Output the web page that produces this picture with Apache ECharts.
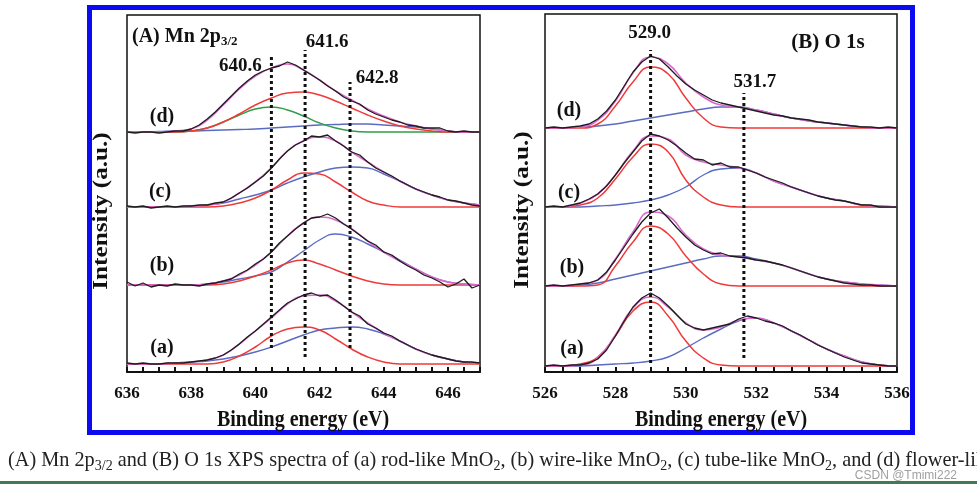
<!DOCTYPE html>
<html><head><meta charset="utf-8">
<script src="https://cdn.jsdelivr.net/npm/echarts@6/dist/echarts.min.js"></script>
<style>html,body{margin:0;padding:0;background:#fff;overflow:hidden}#c{width:977px;height:491px}</style>
</head><body><div id="c"></div>
<script>
// ================= DATA =================
// ---- Panel A: Mn 2p3/2 (binding energy, eV) ----
const mnE = [636,636.5,637,637.5,638,638.5,639,639.5,640,640.5,641,641.5,642,642.5,643,643.5,644,644.5,645,645.5,646,646.5,647];
const mnRawE = [636,636.25,636.5,636.75,637,637.25,637.5,637.75,638,638.25,638.5,638.75,639,639.25,639.5,639.75,640,640.25,640.5,640.75,641,641.25,641.5,641.75,642,642.25,642.5,642.75,643,643.25,643.5,643.75,644,644.25,644.5,644.75,645,645.25,645.5,645.75,646,646.25,646.5,646.75,647];
const mnOffset = {a: 8, b: 87, c: 165, d: 240};
// (a) rod-like
const mnRawA  = [1,0,1,0,0,1,1,1,2,3,4,6,9,14,20,27,33,40,47,54,61,65,69,71,68,69,64,58,52,48,40,36,31,28,23,19,15,12,9,7,5,3,2,2,1];
const mnFitA  = [0,0,0,1,2,4,9,20,33,46,60,68,69,63,52,41,31,23,15,9,5,2,1];
const mnRedA  = [0,0,0,0,0,0,2,8,17,28,35,37,34,25,15,7,2,0,0,0,0,0,0];
const mnBlueA = [0,0,0,1,2,3,5,8,12,17,23,29,34,36,37,35,30,23,15,9,5,2,1];
// (b) wire-like
const mnRawB  = [3,-1,2,-2,0,-1,1,0,0,-1,1,2,4,6,11,15,21,26,33,42,49,56,62,67,68,71,67,61,56,50,44,40,33,30,24,19,15,10,7,3,-2,1,6,-3,0];
const mnFitB  = [0,0,0,0,0,1,4,10,20,33,49,62,68,65,56,44,33,24,16,8,3,1,0];
const mnRedB  = [0,0,0,0,0,0,1,4,9,15,22,25,21,15,9,4,1,0,0,0,0,0,0];
const mnBlueB = [0,0,0,0,0,1,3,6,9,13,23,34,45,51,48,41,33,25,16,8,3,1,0];
// (c) tube-like
const mnRawC  = [1,0,1,-1,0,1,0,1,1,2,2,4,5,9,14,19,25,31,39,48,56,62,66,71,70,72,66,61,55,52,45,39,35,31,26,22,18,15,12,10,7,6,4,2,1];
const mnFitC  = [0,0,0,0,1,2,5,14,25,39,56,66,70,66,55,45,35,26,18,12,7,4,2];
const mnRedC  = [0,0,0,0,0,0,1,4,9,17,27,34,33,25,15,6,2,0,0,0,0,0,0];
const mnBlueC = [0,0,0,0,1,2,4,8,12,17,24,30,35,39,40,39,33,26,18,12,7,4,2];
// (d) flower-like
const mnRawD   = [0,-1,0,0,-1,0,1,1,3,7,13,20,28,36,44,51,57,61,64,66,70,67,62,57,52,46,41,35,31,28,22,18,15,12,10,7,6,4,4,4,1,0,1,0,0];
const mnFitD   = [0,0,0,1,3,12,27,43,56,64,68,62,52,41,32,23,16,10,6,3,1,0,0];
const mnRedD   = [0,0,0,0,1,4,10,18,27,34,39,40,37,31,24,17,11,6,3,1,0,0,0];
const mnGreenD = [0,0,0,0,1,4,10,17,23,25,22,16,9,4,1,0,0,0,0,0,0,0,0];
const mnBlueD  = [0,0,0.5,1,1,1.5,2,2.5,3,4,5,6,7,7.5,8,8,7,6,5,3,1,0,0];
// reference peak positions (dotted lines)
const mnPeakE      = [640.5, 641.55, 642.95];
const mnPeakLabel  = ['640.6', '641.6', '642.8'];
const mnPeakTop    = [317, 322, 290];
const mnPeakBottom = [24, 15, 24];

// ---- Panel B: O 1s ----
const oE = [526,526.5,527,527.5,528,528.5,529,529.5,530,530.5,531,531.5,532,532.5,533,533.5,534,534.5,535,535.5,536];
const oRawE = [526,526.25,526.5,526.75,527,527.25,527.5,527.75,528,528.25,528.5,528.75,529,529.25,529.5,529.75,530,530.25,530.5,530.75,531,531.25,531.5,531.75,532,532.25,532.5,532.75,533,533.25,533.5,533.75,534,534.25,534.5,534.75,535,535.25,535.5,535.75,536];
const oOffset = {a: 6, b: 86, c: 165, d: 244};
const oRawA  = [0,1,0,1,1,3,7,16,30,45,59,68,73,68,60,51,42,38,36,38,40,42,47,50,48,45,43,40,35,31,26,21,17,13,9,6,3,2,1,0,0];
const oFitA  = [0,0,1,8,31,58,69,59,43,36,39,46,48,43,35,26,17,10,4,1,0];
const oRedA  = [0,0,2,9,30,55,64,50,25,8,1,0,0,0,0,0,0,0,0,0,0];
const oBlueA = [0,0,0,1,2,3,5,9,18,28,37,45,48,43,35,26,17,10,4,1,0];
const oRawB  = [0,1,0,1,2,3,6,14,26,39,52,64,73,77,68,58,49,41,36,32,33,30,29,28,26,25,23,21,18,15,12,9,7,5,3,2,1,1,0,0,0];
const oFitB  = [0,0,2,6,27,54,74,70,51,37,31,29,26,23,18,12,7,4,2,1,0];
const oRedB  = [0,0,0,1,20,44,60,52,30,12,2,0,0,0,0,0,0,0,0,0,0];
const oBlueB = [0,0,1,3,7,11,15,19,23,27,30,30,27,23,18,12,7,4,2,1,0];
const oRawC  = [0,1,0,2,4,8,13,21,32,44,55,66,73,71,67,61,54,48,47,42,44,40,40,37,34,30,27,24,20,17,14,11,9,7,6,4,2,2,0,0,0];
const oFitC  = [0,0,4,13,32,56,71,68,52,45,42,39,34,26,20,14,9,6,2,1,0];
const oRedC  = [0,0,2,9,28,50,63,55,27,10,2,0,0,0,0,0,0,0,0,0,0];
const oBlueC = [0,0,0,1,2,4,7,12,20,32,38,39,34,26,20,14,9,6,2,1,0];
const oRawD  = [0,1,0,1,2,4,9,17,28,42,56,66,72,69,61,52,44,38,33,28,25,23,21,19,17,15,13,12,10,9,8,6,5,4,3,2,1,1,0,1,0];
const oFitD  = [0,0,1,8,27,55,71,64,45,31,23,21,18,14,10,7,5,3,1,0,0];
const oRedD  = [0,0,0,4,22,46,61,54,30,10,1,0,0,0,0,0,0,0,0,0,0];
const oBlueD = [0,0,1,2,4,7,10,13,16,19,21,21,18,14,10,7,5,3,1,0,0];
const oPeakE      = [529.0, 531.65];
const oPeakLabel  = ['529.0', '531.7'];
const oPeakTop    = [322, 279];
const oPeakBottom = [9, 14];

// ================= CHART =================
const FONT = '"Liberation Serif", "Times New Roman", serif';
const C = {raw: '#1d1d1d', fit: '#de68cf', red: '#f03a3a', blue: '#5a6bc2', green: '#2f9e48'};

function ln(gi, xs, ys, off, color, width, smooth, z) {
  return {
    type: 'line', xAxisIndex: gi, yAxisIndex: gi,
    data: xs.map((x, i) => [x, off + ys[i]]),
    symbol: 'none', showSymbol: false, smooth: smooth ? 0.5 : false,
    lineStyle: {color: color, width: width}, z: z, silent: true, animation: false
  };
}
function peakLines(gi, es, tops, bottoms) {
  return es.map((e, i) => ({
    type: 'line', xAxisIndex: gi, yAxisIndex: gi,
    data: [[e, bottoms[i]], [e, tops[i]]], symbol: 'none', showSymbol: false,
    lineStyle: {color: '#111', width: 3, type: [3, 3]}, z: 6, silent: true, animation: false
  }));
}

const series = [];
const mnSets = [
  ['a', mnRawA, mnFitA, mnRedA, mnBlueA, null],
  ['b', mnRawB, mnFitB, mnRedB, mnBlueB, null],
  ['c', mnRawC, mnFitC, mnRedC, mnBlueC, null],
  ['d', mnRawD, mnFitD, mnRedD, mnBlueD, mnGreenD]
];
mnSets.forEach(([k, raw, fit, red, blue, green]) => {
  const off = mnOffset[k];
  series.push(ln(0, mnE, blue, off, C.blue, 1.4, true, 2));
  if (green) series.push(ln(0, mnE, green, off, C.green, 1.4, true, 2));
  series.push(ln(0, mnE, red, off, C.red, 1.5, true, 3));
  series.push(ln(0, mnE, fit, off, C.fit, 1.6, true, 4));
  series.push(ln(0, mnRawE, raw, off, C.raw, 1.3, false, 5));
});
const oSets = [
  ['a', oRawA, oFitA, oRedA, oBlueA],
  ['b', oRawB, oFitB, oRedB, oBlueB],
  ['c', oRawC, oFitC, oRedC, oBlueC],
  ['d', oRawD, oFitD, oRedD, oBlueD]
];
oSets.forEach(([k, raw, fit, red, blue]) => {
  const off = oOffset[k];
  series.push(ln(1, oE, blue, off, C.blue, 1.4, true, 2));
  series.push(ln(1, oE, red, off, C.red, 1.5, true, 3));
  series.push(ln(1, oE, fit, off, C.fit, 1.6, true, 4));
  series.push(ln(1, oRawE, raw, off, C.raw, 1.3, false, 5));
});
series.push(...peakLines(0, mnPeakE, mnPeakTop, mnPeakBottom));
series.push(...peakLines(1, oPeakE, oPeakTop, oPeakBottom));

function xAxisCfg(gi, min, max) {
  return {
    type: 'value', gridIndex: gi, min: min, max: max, interval: 0.5,
    axisLine: {show: true, onZero: false, lineStyle: {color: '#111', width: 2}},
    axisTick: {show: true, inside: true, length: 5, lineStyle: {color: '#111', width: 2}},
    axisLabel: {show: true, margin: 13, color: '#111', fontSize: 17, fontWeight: 'bold', fontFamily: FONT,
      formatter: v => (Math.abs(v % 2) < 1e-9 ? String(v) : '')},
    splitLine: {show: false}
  };
}

// text helpers
const mctx = document.createElement('canvas').getContext('2d');
function txt(x, y, t, font, opts) {
  return Object.assign({
    type: 'text', x: x, y: y, silent: true,
    style: {text: t, font: font, fill: '#111', textAlign: 'center', textVerticalAlign: 'middle', verticalAlign: 'middle'}
  }, opts || {});
}
function segText(x, y, parts, font, subFont, subDy, color) {
  const els = []; let cx = x;
  parts.forEach(([t, sub]) => {
    const f = sub ? subFont : font;
    els.push({type: 'text', x: cx, y: y + (sub ? subDy : 0), silent: true,
      style: {text: t, font: f, fill: color, textAlign: 'left', textVerticalAlign: 'middle', verticalAlign: 'middle'}});
    mctx.font = f; cx += mctx.measureText(t).width;
  });
  return els;
}

const BOLD = (s) => 'bold ' + s + 'px ' + FONT;

const chart = echarts.init(document.getElementById('c'), null, {renderer: 'canvas'});
chart.setOption({
  animation: false,
  backgroundColor: '#fff',
  grid: [
    {left: 127, top: 15, width: 353, height: 357, show: true, borderColor: '#111', borderWidth: 1.5, backgroundColor: 'transparent'},
    {left: 545, top: 14, width: 352, height: 358, show: true, borderColor: '#111', borderWidth: 1.5, backgroundColor: 'transparent'}
  ],
  xAxis: [xAxisCfg(0, 636, 647), xAxisCfg(1, 526, 536)],
  yAxis: [
    {type: 'value', gridIndex: 0, min: 0, max: 357, show: false},
    {type: 'value', gridIndex: 1, min: 0, max: 358, show: false}
  ],
  series: series
});

// peak labels anchored to the top of each dotted line (pixel offsets for the label centre)
function peakTexts(gi, es, tops, labels, offsets) {
  return es.map((e, i) => {
    const p = chart.convertToPixel({gridIndex: gi}, [e, tops[i]]);
    return txt(p[0] + offsets[i][0], p[1] + offsets[i][1], labels[i], BOLD(19));
  });
}

const graphic = [
  {type: 'rect', silent: true, shape: {x: 89.5, y: 7.5, width: 823, height: 425},
    style: {fill: 'none', stroke: '#0b0bf2', lineWidth: 5}},
  {type: 'rect', silent: true, shape: {x: 0, y: 481, width: 977, height: 3}, style: {fill: '#3f7c50'}},
  ...segText(132, 37, [['(A) Mn 2p', false], ['3/2', true]], BOLD(20), BOLD(13), 5, '#111'),
  txt(828, 43, '(B) O 1s', BOLD(21)),
  txt(303, 420, 'Binding energy (eV)', BOLD(20), {scaleY: 1.12}),
  txt(721, 420, 'Binding energy (eV)', BOLD(20), {scaleY: 1.12}),
  txt(102, 211, 'Intensity (a.u.)', BOLD(21), {rotation: Math.PI / 2, scaleX: 1.2}),
  txt(523, 210, 'Intensity (a.u.)', BOLD(21), {rotation: Math.PI / 2, scaleX: 1.2}),
  txt(162, 117, '(d)', BOLD(20)), txt(160, 192, '(c)', BOLD(20)),
  txt(162, 266, '(b)', BOLD(20)), txt(162, 348, '(a)', BOLD(20)),
  txt(569, 111, '(d)', BOLD(20)), txt(569, 193, '(c)', BOLD(20)),
  txt(572, 268, '(b)', BOLD(20)), txt(572, 349, '(a)', BOLD(20)),
  ...peakTexts(0, mnPeakE, mnPeakTop, mnPeakLabel, [[-31, 11], [22, -8], [27, -4]]),
  ...peakTexts(1, oPeakE, oPeakTop, oPeakLabel, [[-1, -17], [11, -11]]),
  ...segText(8, 461, [
    ['(A) Mn 2p', false], ['3/2', true],
    [' and (B) O 1s XPS spectra of (a) rod-like MnO', false], ['2', true],
    [', (b) wire-like MnO', false], ['2', true],
    [', (c) tube-like MnO', false], ['2', true],
    [', and (d) flower-like MnO', false], ['2', true], ['.', false]
  ], '20.3px ' + FONT, '14px ' + FONT, 5, '#222'),
  {type: 'text', x: 957, y: 476, silent: true,
    style: {text: 'CSDN @Tmimi222', font: '12px "Liberation Sans", Arial, sans-serif', fill: '#a0a0a0',
      textAlign: 'right', textVerticalAlign: 'middle', verticalAlign: 'middle'}}
];
chart.setOption({graphic: graphic});
</script>
</body></html>
